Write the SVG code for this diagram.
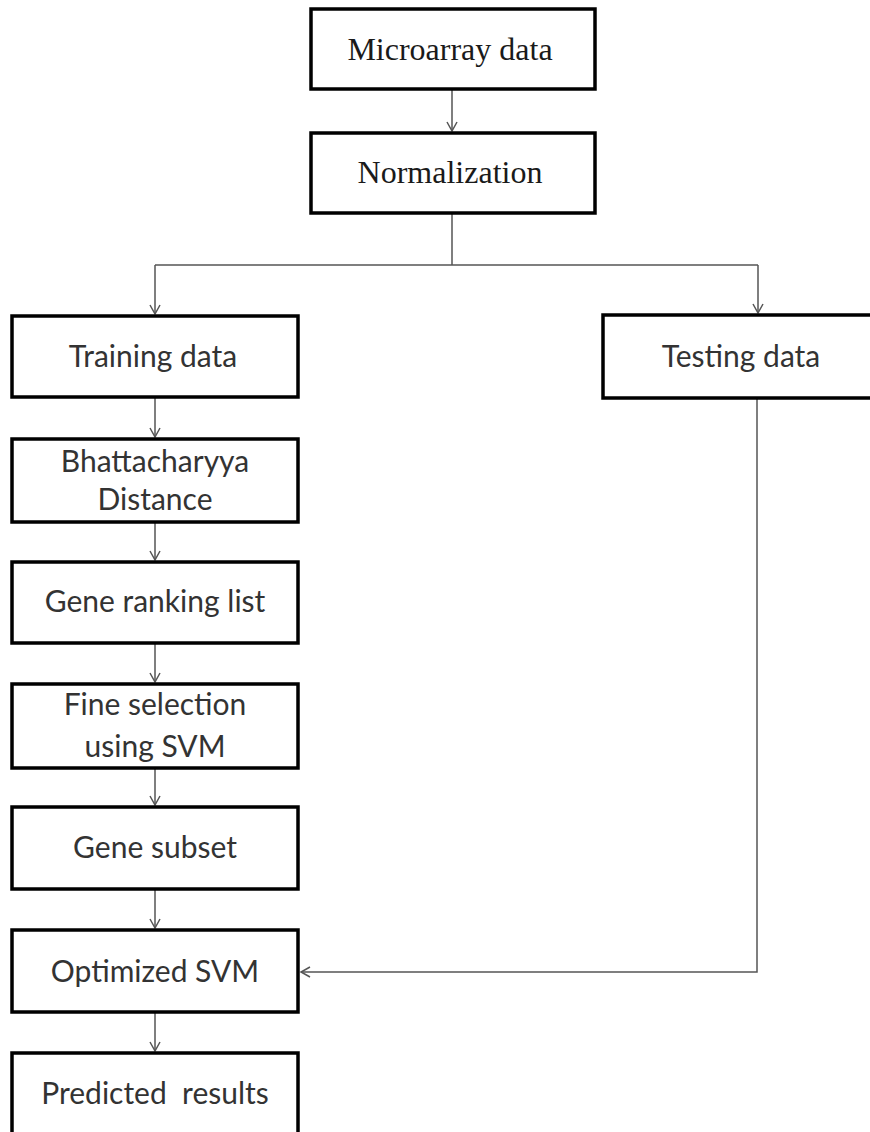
<svg xmlns="http://www.w3.org/2000/svg" width="870" height="1132" viewBox="0 0 870 1132">
<style>
.box{fill:#fff;stroke:#000;stroke-width:3.5}
.serif{font-family:"Liberation Serif","Times New Roman",serif;font-size:32px;fill:#1a1a1a;text-anchor:middle}
.sans{font-family:Lato,"Liberation Sans",sans-serif;font-size:30px;fill:#333;text-anchor:middle}
.conn{fill:none;stroke:#555;stroke-width:1.5}
</style>
<defs>
<marker id="arr" markerWidth="12" markerHeight="12" refX="10" refY="6" orient="auto" markerUnits="userSpaceOnUse">
<path d="M1,1 L10,6 L1,11" fill="none" stroke="#555" stroke-width="1.5"/>
</marker>
</defs>
<rect width="870" height="1132" fill="#fff"/>
<g id="connectors">
<line class="conn" x1="452" y1="89" x2="452" y2="131" marker-end="url(#arr)"/>
<polyline class="conn" points="452,213 452,265"/>
<polyline class="conn" points="155,265 758,265"/>
<line class="conn" x1="155" y1="265" x2="155" y2="314" marker-end="url(#arr)"/>
<line class="conn" x1="758" y1="265" x2="758" y2="313" marker-end="url(#arr)"/>
<line class="conn" x1="155" y1="397" x2="155" y2="437" marker-end="url(#arr)"/>
<line class="conn" x1="155" y1="522" x2="155" y2="560" marker-end="url(#arr)"/>
<line class="conn" x1="155" y1="643" x2="155" y2="682" marker-end="url(#arr)"/>
<line class="conn" x1="155" y1="768" x2="155" y2="805" marker-end="url(#arr)"/>
<line class="conn" x1="155" y1="889" x2="155" y2="928" marker-end="url(#arr)"/>
<line class="conn" x1="155" y1="1012" x2="155" y2="1051" marker-end="url(#arr)"/>
<polyline class="conn" points="757,398 757,972 301,972" marker-end="url(#arr)"/>
</g>
<g id="microarray"><rect class="box" x="311" y="9" width="284" height="80"/><text class="serif" x="450" y="60">Microarray data</text></g>
<g id="normalization"><rect class="box" x="311" y="133" width="284" height="80"/><text class="serif" x="450" y="183">Normalization</text></g>
<g id="training"><rect class="box" x="12" y="316" width="286" height="81"/><text class="sans" x="153" y="367">Training data</text></g>
<g id="testing"><rect class="box" x="603" y="315" width="278" height="83"/><text class="sans" x="741" y="367">Testing data</text></g>
<g id="bhattacharyya"><rect class="box" x="12" y="439" width="286" height="83"/><text class="sans" x="155" y="472">Bhattacharyya</text><text class="sans" x="155" y="510">Distance</text></g>
<g id="generanking"><rect class="box" x="12" y="562" width="286" height="81"/><text class="sans" x="155" y="612">Gene ranking list</text></g>
<g id="fineselection"><rect class="box" x="12" y="684" width="286" height="84"/><text class="sans" x="155" y="715">Fine selection</text><text class="sans" x="155" y="757">using SVM</text></g>
<g id="genesubset"><rect class="box" x="12" y="807" width="286" height="82"/><text class="sans" x="155" y="858">Gene subset</text></g>
<g id="optimizedsvm"><rect class="box" x="12" y="930" width="286" height="82"/><text class="sans" x="155" y="982">Optimized SVM</text></g>
<g id="predicted"><rect class="box" x="12" y="1053" width="286" height="90"/><text class="sans" x="155" y="1104" xml:space="preserve">Predicted  results</text></g>
</svg>
